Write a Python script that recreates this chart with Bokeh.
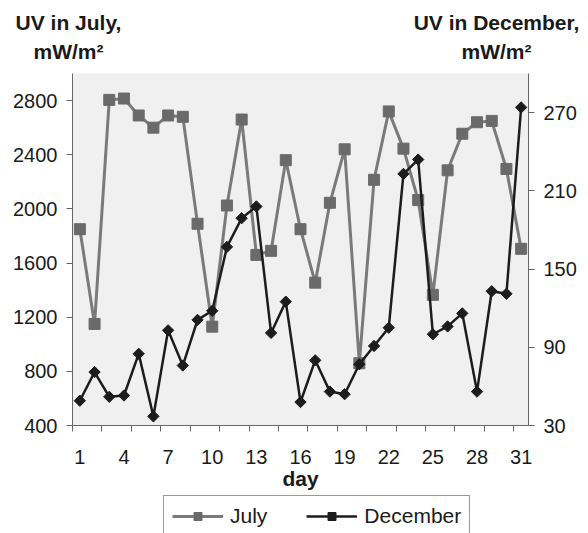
from math import pi
from bokeh.plotting import figure
from bokeh.layouts import column
from bokeh.models import Range1d, LinearAxis, FixedTicker, Legend, LegendItem
from bokeh.core.properties import value
from bokeh.embed import file_html
from bokeh.resources import INLINE

days = list(range(1, 32))
july = [1850, 1150, 2805, 2815, 2690, 2600, 2690, 2680, 1890, 1130, 2025, 2660, 1660, 1690,
        2360, 1850, 1455, 2045, 2440, 860, 2215, 2720, 2445, 2065, 1365, 2285, 2555, 2640,
        2650, 2295, 1705]
december = [49, 71, 52, 53, 85, 37, 103, 76, 111, 118, 167, 189, 198, 101, 125, 48, 80, 56,
            54, 77, 91, 105, 223, 234, 100, 106, 116, 56, 133, 131, 274]
x_tick_labels = [1, 4, 7, 10, 13, 16, 19, 22, 25, 28, 31]
left_ticks = [400, 800, 1200, 1600, 2000, 2400, 2800]
right_ticks = [30, 90, 150, 210, 270]
title_lines = ["UV in July,", "mW/m\u00b2", "UV in December,", "mW/m\u00b2"]
series_names = ["July", "December"]

FONT = "Liberation Sans"
AXIS_COLOR = "#666666"
TEXT_COLOR = "#1a1a1a"
JULY_LINE = "#7a7a7a"
JULY_MARK = "#6a6a6a"
DEC_COLOR = "#1c1c1c"
W = 588
HEAD_H = 65
FOOT_H = 41
MAIN_H = 533 - HEAD_H - FOOT_H
NAN = float("nan")


def bare(height):
    f = figure(width=W, height=height, output_backend="svg", toolbar_location=None,
               x_range=Range1d(0, W), y_range=Range1d(height, 0),
               x_axis_type=None, y_axis_type=None, min_border=0)
    f.outline_line_color = None
    f.grid.visible = False
    f.frame_align = False
    return f


# ---- header with the two axis titles ----
head = bare(HEAD_H)
head.text(x=[68, 68, 496, 496], y=[22, 51, 22, 51], text=title_lines,
          text_align="center", text_baseline="middle", text_font=value(FONT),
          text_font_style="bold", text_font_size="21px", text_color=TEXT_COLOR)

# ---- main chart ----
p = figure(width=W, height=MAIN_H, output_backend="svg", toolbar_location=None,
           x_range=Range1d(0.5, 31.5), y_range=Range1d(400, 3000),
           min_border_left=72, min_border_right=60, min_border_top=8, min_border_bottom=65)
p.frame_align = False
p.extra_y_ranges = {"dec": Range1d(30, 300)}
p.background_fill_color = "#f0f0f0"
p.border_fill_color = "white"
p.outline_line_color = None
p.grid.visible = False

xa = p.xaxis[0]
xa.ticker = FixedTicker(ticks=x_tick_labels, minor_ticks=[d - 0.5 for d in days if d % 2 == 1])
xa.major_tick_line_color = None
xa.major_tick_out = 0
xa.major_tick_in = 0
xa.minor_tick_out = 6
xa.minor_tick_in = 0
xa.minor_tick_line_color = AXIS_COLOR
xa.axis_line_color = AXIS_COLOR
xa.major_label_standoff = 18
xa.major_label_text_font = FONT
xa.major_label_text_font_size = "20px"
xa.major_label_text_color = TEXT_COLOR
xa.axis_label = "day"
xa.axis_label_text_font = FONT
xa.axis_label_text_font_style = "bold"
xa.axis_label_text_font_size = "21px"
xa.axis_label_text_color = TEXT_COLOR
xa.axis_label_standoff = 0

ya = p.yaxis[0]
ya.ticker = FixedTicker(ticks=left_ticks)
ya.minor_tick_line_color = None
ya.major_tick_in = 0
ya.major_tick_out = 6
ya.major_tick_line_color = AXIS_COLOR
ya.axis_line_color = AXIS_COLOR
ya.major_label_standoff = 9
ya.major_label_text_font = FONT
ya.major_label_text_font_size = "20px"
ya.major_label_text_color = TEXT_COLOR

ra = LinearAxis(y_range_name="dec", ticker=FixedTicker(ticks=right_ticks))
ra.minor_tick_line_color = None
ra.major_tick_in = 0
ra.major_tick_out = 6
ra.major_tick_line_color = AXIS_COLOR
ra.axis_line_color = AXIS_COLOR
ra.major_label_standoff = 9
ra.major_label_text_font = FONT
ra.major_label_text_font_size = "20px"
ra.major_label_text_color = TEXT_COLOR
p.add_layout(ra, "right")

p.line(days, july, line_color=JULY_LINE, line_width=3)
p.scatter(days, july, marker="square", size=11, fill_color=JULY_MARK, line_color=JULY_MARK)
p.line(days, december, y_range_name="dec", line_color=DEC_COLOR, line_width=2.5)
p.scatter(days, december, y_range_name="dec", marker="square", angle=pi / 4, size=8,
          fill_color=DEC_COLOR, line_color=DEC_COLOR)

# ---- footer holding the legend (legend-only renderers with the series' styles) ----
foot = bare(FOOT_H)
fl1 = foot.line([NAN], [NAN], line_color=JULY_LINE, line_width=3)
fs1 = foot.scatter([NAN], [NAN], marker="square", size=11, fill_color=JULY_MARK,
                   line_color=JULY_MARK)
fl2 = foot.line([NAN], [NAN], line_color=DEC_COLOR, line_width=2.5)
fs2 = foot.scatter([NAN], [NAN], marker="square", angle=pi / 4, size=8,
                   fill_color=DEC_COLOR, line_color=DEC_COLOR)
legend = Legend(items=[LegendItem(label=series_names[0], renderers=[fl1, fs1]),
                       LegendItem(label=series_names[1], renderers=[fl2, fs2])],
                location=(163, -4), orientation="horizontal", margin=0,
                padding=8, spacing=39, glyph_width=51, glyph_height=20, label_standoff=7,
                label_text_font=FONT, label_text_font_size="21px", label_text_color=TEXT_COLOR,
                border_line_color="#333333", border_line_width=1, background_fill_color="white",
                background_fill_alpha=1)
foot.add_layout(legend)

layout = column(head, p, foot, spacing=0)
open("out.html", "w").write(file_html(layout, INLINE))
